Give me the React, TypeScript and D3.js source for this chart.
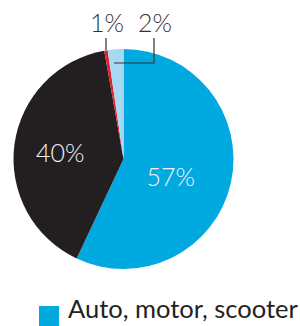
import React from "react";
import * as d3 from "d3";

const categories = ["Auto, motor, scooter", "Other", "Red", "Light"];
const values = [57, 40.2, 0.5, 2.3];
const labels = ["57%", "40%", "1%", "2%"];
const colors = ["#00a9e0", "#231f20", "#e2202f", "#a8d9f2"];

export default function App() {
  const W = 300, H = 326;
  const cx = 123.5, cy = 159, r = 110;
  const pie = d3.pie<number>().sort(null).value((d) => d)(values);
  const arc = d3.arc<d3.PieArcDatum<number>>().innerRadius(0).outerRadius(r);
  const labelRadius = [0.45, 0.57];
  const dys = [16, 11];
  const font = "Lato, 'Open Sans', sans-serif";
  return (
    <svg width={W} height={H} style={{ position: "absolute", left: 0, top: 0 }}>
      <g transform={`translate(${cx},${cy})`}>
        {pie.map((p, i) => (
          <path key={i} d={arc(p) || ""} fill={colors[i]} />
        ))}
        {pie.slice(0, 2).map((p, i) => {
          const la = d3.arc<d3.PieArcDatum<number>>().innerRadius(r * labelRadius[i]).outerRadius(r * labelRadius[i]);
          const [x, y] = la.centroid(p);
          return (
            <text key={i} x={x - 1} y={y + dys[i]} textAnchor="middle" fill="#f2f2f2" fontFamily={font} fontSize={25} fontWeight={300}>
              {labels[i]}
            </text>
          );
        })}
      </g>
      <text x={107} y={32} textAnchor="middle" fill="#333" fontFamily={font} fontSize={25} fontWeight={300}>{labels[2]}</text>
      <text x={155} y={32} textAnchor="middle" fill="#333" fontFamily={font} fontSize={25} fontWeight={300}>{labels[3]}</text>
      <line x1={106} y1={38} x2={106} y2={50} stroke="#333" strokeWidth={1.2} />
      <polyline points="154,38 154,63 114,63" fill="none" stroke="#333" strokeWidth={1.2} />
      <rect x={39} y={306} width={20} height={20} fill={colors[0]} />
      <text x={68} y={318} fill="#222" fontFamily={font} fontSize={25.5} fontWeight={400}>{categories[0]}</text>
    </svg>
  );
}
